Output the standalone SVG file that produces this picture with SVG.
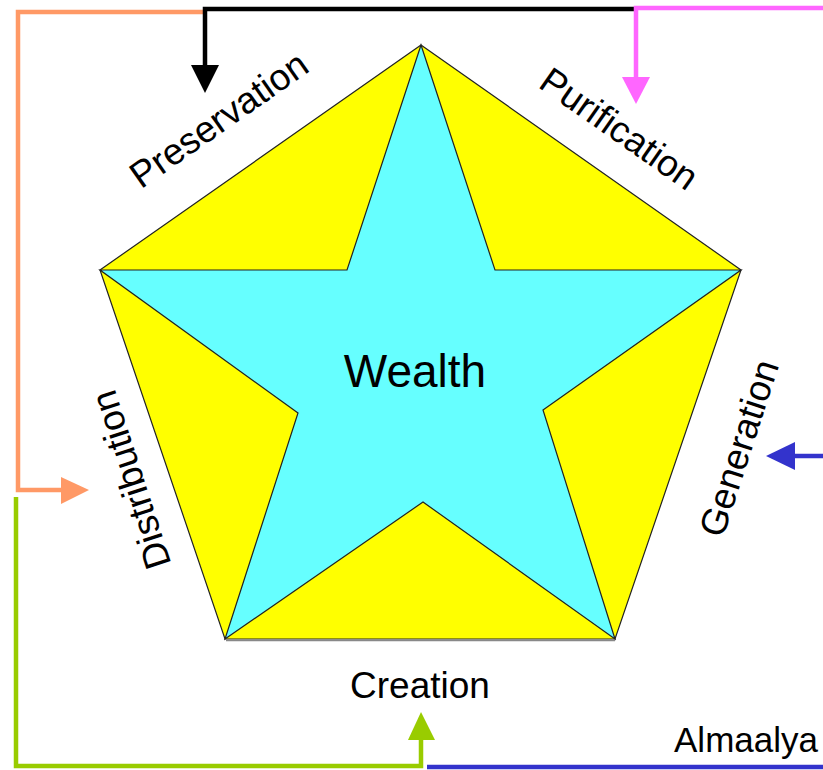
<svg xmlns="http://www.w3.org/2000/svg" width="823" height="770" viewBox="0 0 823 770">
<style>
.lbl{font-family:"Liberation Sans",Arial,sans-serif;font-size:37px;fill:#000;text-anchor:middle}
.ln{fill:none;stroke-width:4.5;stroke-linejoin:miter;stroke-linecap:butt}
</style>
<rect width="823" height="770" fill="#fff"/>
<g id="pentagon">
<polygon points="421,45 741,270 615,639 225,639 100,270" fill="#ffff00" stroke="#222" stroke-width="1.2"/>
<line x1="226" y1="640.5" x2="615" y2="640.5" stroke="#888" stroke-width="1.5"/>
</g>
<g id="star">
<polygon points="421,45 495,270 741,270 543,410 615,639 423,502 225,639 298,413 100,270 347,270" fill="#66ffff" stroke="#222" stroke-width="1.2"/>
<text class="lbl" x="415" y="387" style="font-size:46px">Wealth</text>
</g>
<g id="preservation"><text class="lbl" transform="translate(226,130) rotate(-35)">Preservation</text></g>
<g id="purification"><text class="lbl" transform="translate(612,139) rotate(35)">Purification</text></g>
<g id="distribution"><text class="lbl" transform="translate(143,476) rotate(-108)">Distribution</text></g>
<g id="generation"><text class="lbl" transform="translate(751,452) rotate(-72)">Generation</text></g>
<g id="creation"><text class="lbl" x="420" y="698">Creation</text></g>
<g id="almaalya"><text class="lbl" x="746" y="752" style="font-size:35px">Almaalya</text></g>
<g id="connectors">
<polyline class="ln" stroke="#ff9966" points="205,12 18,12 18,490 62,490"/>
<polygon fill="#ff9966" points="61,477 89,490 61,504"/>
<polyline class="ln" stroke="#000" points="637,9 205,9 205,66"/>
<polygon fill="#000" points="191,65 219,65 205,93"/>
<polyline class="ln" stroke="#ff66ff" points="823,8 636,8 636,78"/>
<polygon fill="#ff66ff" points="622,77 650,77 636,104"/>
<polyline class="ln" stroke="#3333cc" points="823,456 794,456"/>
<polygon fill="#3333cc" points="795,442 795,470 766,456"/>
<polyline class="ln" stroke="#99cc00" points="16,497 16,766 421,766 421,739"/>
<polygon fill="#99cc00" points="408,740 435,740 421,712"/>
<polyline class="ln" stroke="#3333cc" points="427,767 823,767"/>
</g>
</svg>
